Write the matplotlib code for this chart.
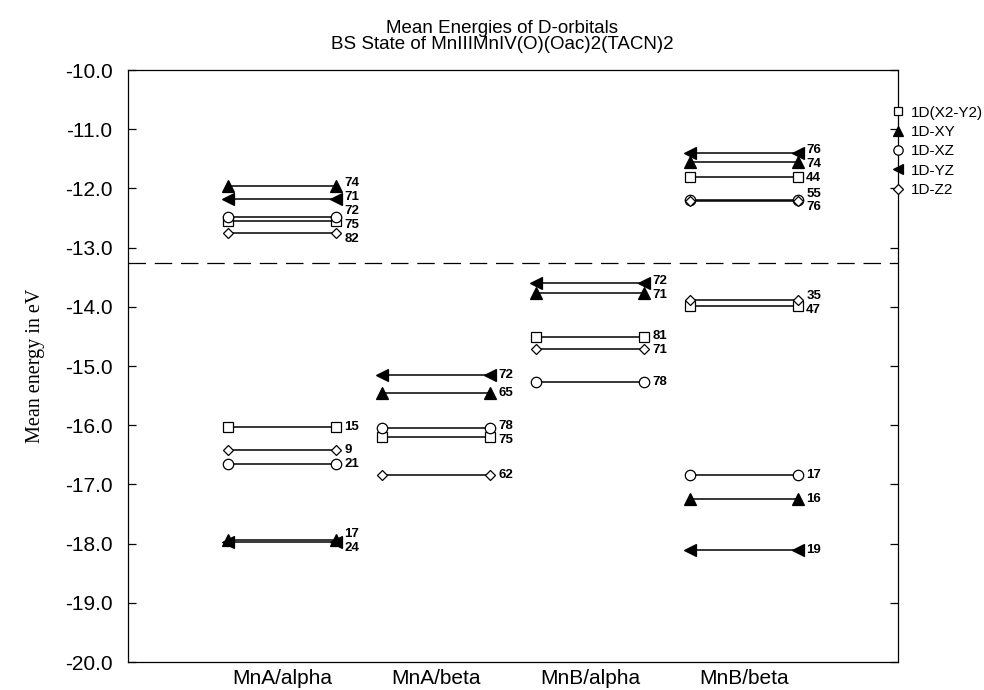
import matplotlib
matplotlib.use("Agg")
import matplotlib.pyplot as plt
import numpy as np
from matplotlib.lines import Line2D

# ---------------- data ----------------
categories = ["MnA/alpha", "MnA/beta", "MnB/alpha", "MnB/beta"]
orbital_names = ["1D(X2-Y2)", "1D-XY", "1D-XZ", "1D-YZ", "1D-Z2"]

x2y2_cat = [0, 0, 1, 2, 3, 3]
x2y2_energy = [-12.55, -16.03, -16.20, -14.51, -11.81, -13.99]
x2y2_label = [75, 15, 75, 81, 44, 47]

xy_cat = [0, 0, 1, 2, 3, 3]
xy_energy = [-11.96, -17.94, -15.46, -13.77, -11.55, -17.25]
xy_label = [74, 17, 65, 71, 74, 16]

xz_cat = [0, 0, 1, 2, 3, 3]
xz_energy = [-12.48, -16.66, -16.05, -15.27, -12.20, -16.84]
xz_label = [72, 21, 78, 78, 55, 17]

yz_cat = [0, 0, 1, 2, 3, 3]
yz_energy = [-12.18, -17.98, -15.15, -13.60, -11.40, -18.11]
yz_label = [71, 24, 72, 72, 76, 19]

z2_cat = [0, 0, 1, 2, 3, 3]
z2_energy = [-12.75, -16.42, -16.84, -14.71, -12.21, -13.89]
z2_label = [82, 9, 62, 71, 76, 35]

separator_energy = -13.26

y_ticks = [-20.0, -19.0, -18.0, -17.0, -16.0, -15.0, -14.0, -13.0, -12.0, -11.0, -10.0]

# ---------------- style ----------------
plt.rcParams['font.family'] = ['Liberation Sans', 'DejaVu Sans']
plt.rcParams['axes.unicode_minus'] = False

series = [
    (x2y2_cat, x2y2_energy, x2y2_label, dict(marker='s', mfc='white', ms=6.5)),
    (xy_cat, xy_energy, xy_label, dict(marker='^', mfc='black', ms=8.0)),
    (xz_cat, xz_energy, xz_label, dict(marker='o', mfc='white', ms=7.5)),
    (yz_cat, yz_energy, yz_label, dict(marker='<', mfc='black', ms=8.0)),
    (z2_cat, z2_energy, z2_label, dict(marker='D', mfc='white', ms=5.5)),
]

half_width = 0.35
label_gap = 0.235

fig = plt.figure(figsize=(9.84, 6.90), dpi=100)
ax = fig.add_axes([128 / 984, 1 - 662 / 690, 770 / 984, 592 / 690])
ax.set_xlim(0, 5)
ax.set_ylim(-20, -10)

xpos = np.arange(1, len(categories) + 1)

labels_per_cat = {i: [] for i in range(len(categories))}
for cats, energies, labs, st in series:
    for c, e, lab in zip(cats, energies, labs):
        x = xpos[c]
        ax.plot([x - half_width, x + half_width], [e, e], color='black', lw=1.1,
                marker=st['marker'], mfc=st['mfc'], mec='black', mew=0.9,
                ms=st['ms'], zorder=3)
        labels_per_cat[c].append((e, lab))

# place value labels, pushing apart those that would overlap
for c, items in labels_per_cat.items():
    items = sorted(items, key=lambda t: -t[0])
    ys = np.array([e for e, _ in items], dtype=float)
    for _ in range(400):
        moved = False
        for k in range(len(ys) - 1):
            d = ys[k] - ys[k + 1]
            if d < label_gap - 1e-6:
                push = (label_gap - d) / 2
                ys[k] += push
                ys[k + 1] -= push
                moved = True
        if not moved:
            break
    for (e, lab), ly in zip(items, ys):
        ax.annotate(str(lab), xy=(xpos[c] + half_width, ly),
                    xytext=(6, 0), textcoords='offset points',
                    ha='left', va='center', fontsize=9.5, fontweight='bold')

ax.axhline(separator_energy, color='black', lw=0.9, dashes=(14, 7), zorder=2)

ax.set_yticks(y_ticks)
ax.set_yticklabels([f"{v:.1f}" for v in y_ticks])
ax.set_xticks(xpos)
ax.set_xticklabels(categories)
ax.tick_params(axis='y', direction='in', length=6, width=0.9, left=True, right=True,
               labelsize=15, pad=11)
ax.tick_params(axis='x', length=0, labelsize=15, pad=5)
for sp in ax.spines.values():
    sp.set_linewidth(0.9)

ax.set_ylabel("Mean energy in eV", family=['Liberation Serif', 'DejaVu Serif'], fontsize=14.5)
ax.yaxis.set_label_coords(-0.108, 0.5)

handles = [Line2D([], [], color='black', ls='none', marker=st['marker'], mfc=st['mfc'],
                  mec='black', mew=0.9, ms=st['ms'] * 0.9)
           for _, _, _, st in series]
ax.legend(handles, orbital_names, loc='upper left', bbox_to_anchor=(0.9903, 0.94),
          frameon=False, fontsize=11, handlelength=1.0, handletextpad=0.3,
          labelspacing=0.35, borderpad=0, borderaxespad=0)

fig.text(0.51, 1 - 36.5 / 690,
         "Mean Energies of D-orbitals\nBS State of MnIIIMnIV(O)(Oac)2(TACN)2",
         ha='center', va='center', fontsize=13.5, linespacing=0.95)

fig.savefig("out.png", dpi=100)
